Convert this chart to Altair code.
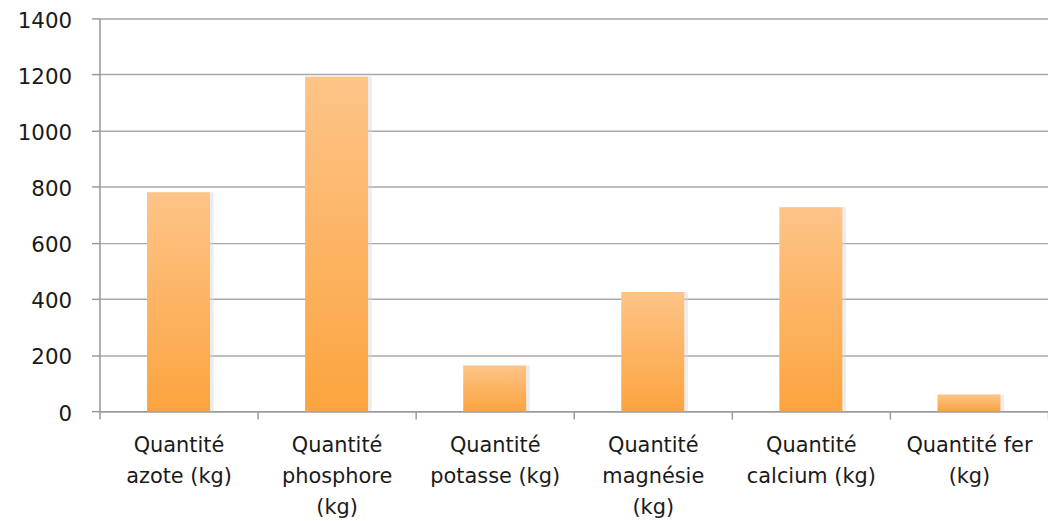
import altair as alt
import pandas as pd

categories = [
    "Quantité\nazote (kg)",
    "Quantité\nphosphore\n(kg)",
    "Quantité\npotasse (kg)",
    "Quantité\nmagnésie\n(kg)",
    "Quantité\ncalcium (kg)",
    "Quantité fer\n(kg)",
]
values = [780, 1192, 163, 425, 727, 59]
y_ticks = [0, 200, 400, 600, 800, 1000, 1200, 1400]

df = pd.DataFrame({"cat": categories, "val": values})

FONT = "DejaVu Sans"

x_enc = alt.X(
    "cat:N",
    sort=categories,
    title=None,
    scale=alt.Scale(paddingInner=0, paddingOuter=0),
    axis=alt.Axis(
        labelExpr="isValid(datum.value) ? split(datum.value, '\\n') : ''",
        labelAngle=0,
        labelFont=FONT,
        labelFontSize=21,
        labelColor="#1a1a1a",
        labelLineHeight=31,
        labelPadding=16,
        labelBaseline="top",
        labelLimit=200,
        labelOverlap=False,
        tickBand="extent",
        tickSize=8,
        tickColor="#9a9a9a",
        tickWidth=1.5,
        domainColor="#9a9a9a",
        domainWidth=1.5,
        grid=False,
    ),
)

y_enc = alt.Y(
    "val:Q",
    title=None,
    scale=alt.Scale(domain=[0, 1400], nice=False),
    axis=alt.Axis(
        values=y_ticks,
        format="d",
        labelFont=FONT,
        labelFontSize=21.5,
        labelColor="#1a1a1a",
        labelPadding=20,
        labelOffset=3,
        labelFlush=False,
        tickSize=8,
        tickColor="#9a9a9a",
        tickWidth=1.5,
        domainColor="#9a9a9a",
        domainWidth=1.5,
        gridColor="#a8a8a8",
        gridWidth=1.5,
    ),
)

shadow = alt.Chart(df).mark_bar(
    width=alt.RelativeBandSize(0.42), color="#d8d8d8", opacity=0.45, xOffset=2
).encode(x=x_enc, y=y_enc)

bars = alt.Chart(df).mark_bar(
    width=alt.RelativeBandSize(0.398),
    color=alt.Gradient(
        gradient="linear",
        stops=[
            alt.GradientStop(color="#FDC488", offset=0),
            alt.GradientStop(color="#FCA43F", offset=1),
        ],
        x1=0, x2=0, y1=0, y2=1,
    ),
).encode(x=x_enc, y=y_enc)

chart = (
    alt.layer(shadow, bars)
    .properties(
        width=954,
        height=395,
        autosize=alt.AutoSizeParams(type="none"),
        padding={"left": 92, "top": 9, "right": 0, "bottom": 110},
    )
    .configure_view(stroke=None)
    .configure(background="white")
)

chart.save("out.html", embed_options={"renderer": "svg", "actions": False})
